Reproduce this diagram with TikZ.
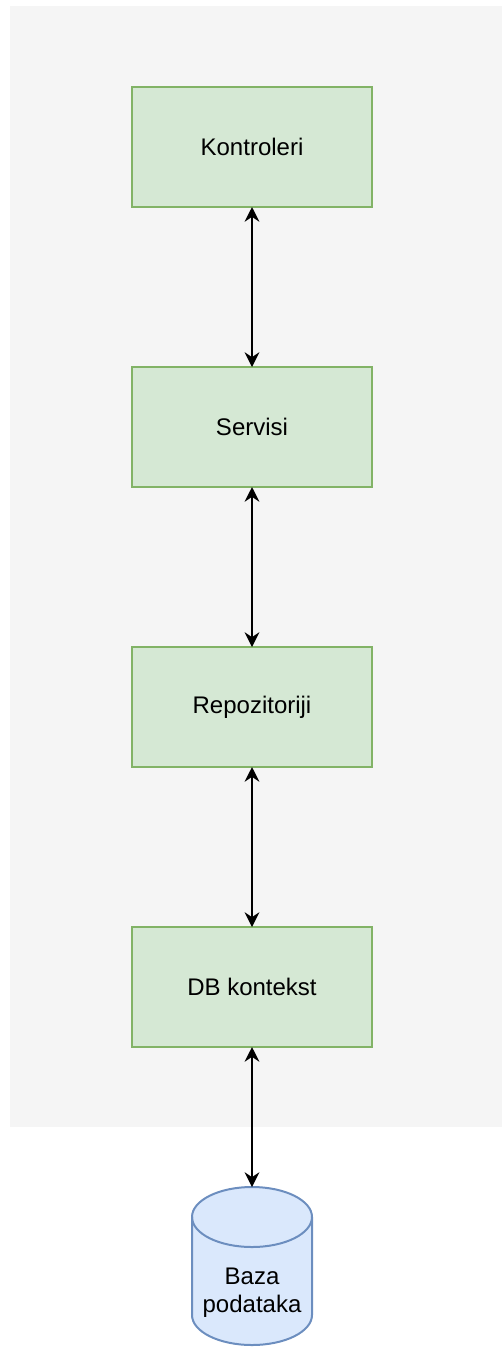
\documentclass[tikz,border=0pt]{standalone}
\usepackage{fontspec}
\setmainfont{Liberation Sans}
\usetikzlibrary{chains,positioning,arrows.meta}
\definecolor{layerfill}{HTML}{D5E8D4}
\definecolor{layerline}{HTML}{82B366}
\definecolor{dbfill}{HTML}{DAE8FC}
\definecolor{dbline}{HTML}{6C8EBF}
\definecolor{panel}{HTML}{F5F5F5}

\begin{document}
\begin{tikzpicture}[x=0.75pt, y=-0.75pt,
  layer/.style={rectangle, draw=layerline, fill=layerfill, line width=1.5pt, minimum width=180pt, minimum height=90pt, inner sep=0pt, outer sep=0pt, font=\fontsize{18pt}{21pt}\selectfont},
  dbbox/.style={rectangle, minimum width=90pt, minimum height=118.5pt, inner sep=0pt, outer sep=0pt},
  >={Stealth[length=11pt,width=11pt]}, start chain=going below, node distance=120pt]
            \useasboundingbox (0,0) rectangle (502,1347);
            \fill[panel] (10,6) rectangle (502,1127);
            \node[layer,on chain] (ctrl) at (252,147) {Kontroleri};
            \node[layer,on chain] (svc) {Servisi};
            \node[layer,on chain] (repo) {Repozitoriji};
            \node[layer,on chain] (ctx) {DB kontekst};
            \node[dbbox,below=105pt of ctx] (db) {};
              \draw[draw=dbline, fill=dbfill, line width=1.5pt] ([yshift=-22.5pt]db.north west) -- ([yshift=22.5pt]db.south west)
                arc[start angle=180, end angle=360, x radius=45pt, y radius=22.5pt] -- ([yshift=-22.5pt]db.north east)
                arc[start angle=0, end angle=180, x radius=45pt, y radius=22.5pt] -- cycle;
              \draw[dbline, line width=1.5pt] ([yshift=-22.5pt]db.north west) arc[start angle=180, end angle=360, x radius=45pt, y radius=22.5pt];
              \node[align=center, font=\fontsize{18pt}{21pt}\selectfont] (dbtext) at ([yshift=-20pt]db.center) {Baza\\podataka};
            \draw[<->,line width=1.5pt] (ctrl) -- (svc);
            \draw[<->,line width=1.5pt] (svc) -- (repo);
            \draw[<->,line width=1.5pt] (repo) -- (ctx);
            \draw[<->,line width=1.5pt] (ctx) -- (db);
        \end{tikzpicture}
\end{document}
